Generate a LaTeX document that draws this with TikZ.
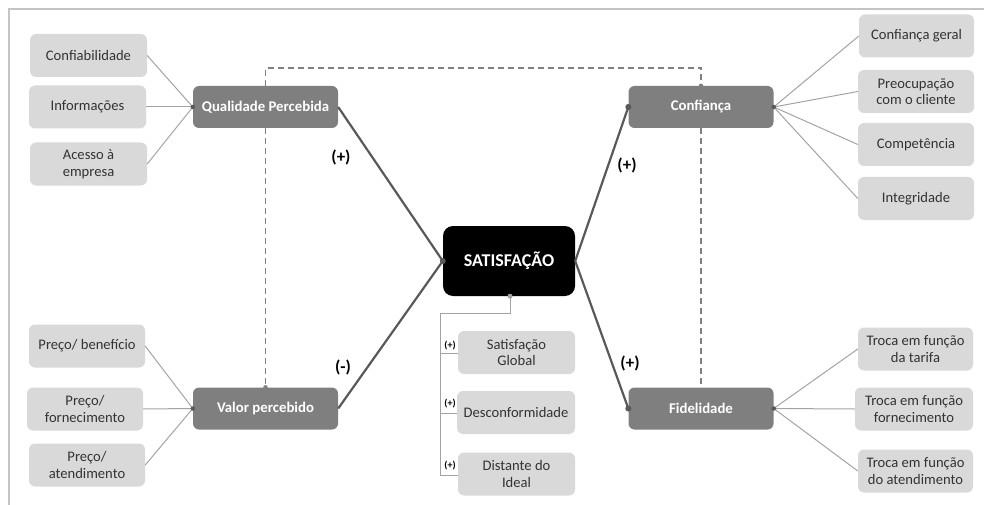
\documentclass[tikz,border=0pt]{standalone}
\usepackage{fontspec}
\setmainfont{Carlito}
\begin{document}
\begin{tikzpicture}[x=1pt,y=-1pt,
  leaf/.style={rectangle,rounded corners=6pt,fill=leafgray,text=leaftext,font=\fontsize{14.6}{16.5}\selectfont,align=center,inner sep=0pt,minimum height=43pt},
  mid/.style={rectangle,rounded corners=6pt,fill=midgray,text=white,font=\bfseries\fontsize{14.8}{16}\selectfont,align=center,inner sep=0pt,minimum width=145pt,minimum height=42pt},
  thick link/.style={draw=darkline,line width=2.2pt},
  thin link/.style={draw=thinline,line width=1pt},
  dash link/.style={draw=dashline,line width=1.5pt,dash pattern=on 6pt off 4pt},
  sign/.style={font=\bfseries\fontsize{17}{19}\selectfont,text=black},
  small sign/.style={font=\bfseries\fontsize{10}{11}\selectfont,text=black,inner sep=0pt},
  dot/.style={circle,fill=darkline,inner sep=0pt,minimum size=6pt}
]
\definecolor{leafgray}{HTML}{D9D9D9}
\definecolor{leaftext}{HTML}{333333}
\definecolor{midgray}{HTML}{7F7F7F}
\definecolor{darkline}{HTML}{595959}
\definecolor{thinline}{HTML}{A3A3A3}
\definecolor{dashline}{HTML}{808080}
\definecolor{framegray}{HTML}{C4C4C4}
\useasboundingbox (0,0) rectangle (984,505);
% frame
\coordinate (fA) at (9,505);
\coordinate (fB) at (9,9);
\coordinate (fC) at (984,9);
\draw[framegray,line width=2pt] (fA) -- (fB) -- (fC);

% main nodes
\node[mid] (qp) at (265.5,107) {Qualidade Percebida};
\node[mid] (vp) at (265.5,408.5) {Valor percebido};
\node[mid] (cf) at (701,107) {Confiança};
\node[mid] (fd) at (701,408.5) {Fidelidade};
\node[rectangle,rounded corners=10pt,fill=black,text=white,font=\bfseries\fontsize{18}{20}\selectfont,minimum width=132pt,minimum height=70pt,inner sep=0pt] (sat) at (509,261) {SATISFAÇÃO};

% left leaves
\node[leaf,minimum width=117pt] (l1) at (88.5,55.5) {Confiabilidade};
\node[leaf,minimum width=117pt] (l2) at (87.5,107) {Informações};
\node[leaf,minimum width=117pt] (l3) at (88.5,164) {Acesso à\\empresa};
\node[leaf,minimum width=116pt] (l4) at (87,346) {Preço/ benefício};
\node[leaf,minimum width=116pt] (l5) at (85,409) {Preço/\\fornecimento};
\node[leaf,minimum width=116pt] (l6) at (87,465) {Preço/\\atendimento};
% right leaves
\node[leaf,minimum width=115pt] (r1) at (916.5,36) {Confiança geral};
\node[leaf,minimum width=116pt] (r2) at (916,91.5) {Preocupação\\com o cliente};
\node[leaf,minimum width=116pt] (r3) at (916,144.5) {Competência};
\node[leaf,minimum width=116pt] (r4) at (916,198.5) {Integridade};
\node[leaf,minimum width=115pt] (r5) at (915.5,349) {Troca em função\\da tarifa};
\node[leaf,minimum width=118pt] (r6) at (914,409) {Troca em função\\fornecimento};
\node[leaf,minimum width=115pt] (r7) at (915.5,471) {Troca em função\\do atendimento};
% satisfaction leaves
\node[leaf,minimum width=117pt] (s1) at (516.5,352.5) {Satisfação\\Global};
\node[leaf,minimum width=118pt] (s2) at (516,412.5) {Desconformidade};
\node[leaf,minimum width=117pt] (s3) at (516.5,474) {Distante do\\Ideal};

% dashed links
\coordinate (d1) at ([shift={(0,-18)}]qp.north);
\coordinate (d2) at ([shift={(0,-18)}]cf.north);
\draw[dash link] (qp.north) -- (d1) -- (d2) -- (cf.north);
\draw[dash link] (qp.south) -- (vp.north);
\draw[dash link] (cf.south) -- (fd.north);
\node[circle,fill=dashline,inner sep=0pt,minimum size=4.5pt] (dd1) at (cf.north) {};
\node[circle,fill=dashline,inner sep=0pt,minimum size=4.5pt] (dd2) at (vp.north) {};

% thin links
\foreach \n in {l1,l2,l3} \draw[thin link] (\n.east) -- (qp.west);
\foreach \n in {l4,l5,l6} \draw[thin link] (\n.east) -- (vp.west);
\foreach \n in {r1,r2,r3,r4} \draw[thin link] (cf.east) -- (\n.west);
\foreach \n in {r5,r6,r7} \draw[thin link] (fd.east) -- (\n.west);

% thick links
\draw[thick link] (qp.east) -- (sat.west);
\draw[thick link] (vp.east) -- (sat.west);
\draw[thick link] (sat.east) -- (cf.west);
\draw[thick link] (sat.east) -- (fd.west);

% dots
\node[dot] (p1) at (sat.west) {};
\node[dot] (p2) at (cf.west) {};
\node[dot] (p3) at (fd.west) {};
\node[dot,minimum size=4.5pt] (p4) at (qp.west) {};
\node[dot,minimum size=4.5pt] (p5) at (vp.west) {};
\node[dot,minimum size=4.5pt] (p6) at (cf.east) {};
\node[dot,minimum size=4.5pt] (p7) at (fd.east) {};

% bracket under satisfaction
\coordinate (b0) at (510,313);
\coordinate (b1) at (440,313);
\coordinate (b2) at (440,353);
\coordinate (b3) at (440,413);
\coordinate (b4) at (440,475);
\draw[thin link] (sat.south -| b0) -- (b0) -- (b1) -- (b4);
\draw[thin link] (b2) -- (b2 -| s1.west);
\draw[thin link] (b3) -- (b3 -| s2.west);
\draw[thin link] (b4) -- (b4 -| s3.west);
\node[circle,fill=thinline,inner sep=0pt,minimum size=5pt] (p8) at (sat.south -| b0) {};
\node[small sign] (t1) at (450,345.5) {(+)};
\node[small sign] (t2) at (450,403.5) {(+)};
\node[small sign] (t3) at (450,466) {(+)};

% signs
\node[sign] (g1) at (341,157) {(+)};
\node[sign] (g2) at (343,367) {(-)};
\node[sign] (g3) at (627,165) {(+)};
\node[sign] (g4) at (630,363) {(+)};
\end{tikzpicture}
\end{document}
